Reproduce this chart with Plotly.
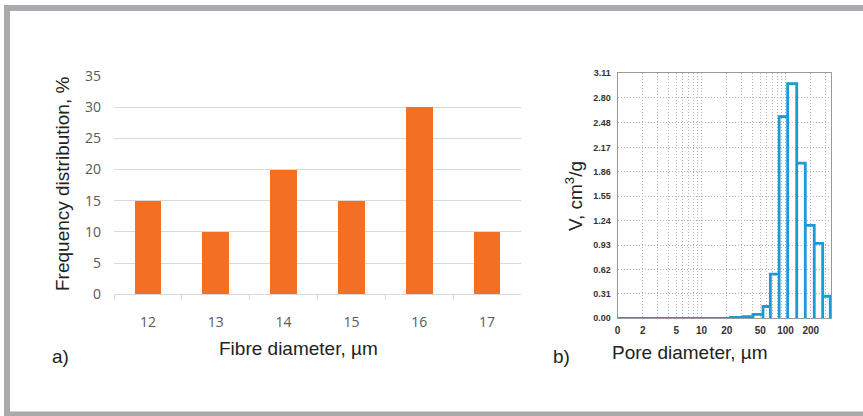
import plotly.graph_objects as go

# ---- data: left chart (fibre diameter distribution) ----
fibre_diam = ["12", "13", "14", "15", "16", "17"]
freq_pct = [15, 10, 20, 15, 30, 10]

# ---- data: right chart (pore volume histogram, log-scaled pore diameter) ----
pore_edges = [1, 22, 31, 41, 54, 66, 84, 106, 136, 172, 220, 277, 341]
pore_vol = [0.0, 0.01, 0.02, 0.05, 0.15, 0.56, 2.56, 2.98, 1.97, 1.18, 0.95, 0.28]
pore_tickvals = [1, 2, 5, 10, 20, 50, 100, 200]
pore_ticktext = ["0", "2", "5", "10", "20", "50", "100", "200"]
vol_ticks = [0.00, 0.31, 0.62, 0.93, 1.24, 1.55, 1.86, 2.17, 2.48, 2.80, 3.11]
minor_grid = [2, 3, 4, 5, 6, 7, 8, 9, 10, 20, 30, 40, 50, 60, 70, 80, 90, 100, 200, 300]

W, H = 863, 416

def px(x):
    return x / W

def py(y):
    return (H - y) / H

# step outline of histogram
sx, sy = [], []
for i, v in enumerate(pore_vol):
    x0, x1 = pore_edges[i], pore_edges[i + 1]
    sx += [x0, x0, x1, x1]
    sy += [0, v, v, 0]

fig = go.Figure()

fig.add_trace(go.Bar(
    x=fibre_diam, y=freq_pct, width=0.395,
    marker=dict(color="#f26f23", line=dict(width=0)),
    xaxis="x", yaxis="y", showlegend=False,
))

fig.add_trace(go.Scatter(
    x=sx, y=sy, mode="lines",
    line=dict(color="#1b9ad6", width=2.8),
    xaxis="x2", yaxis="y2", showlegend=False,
))

GRID2 = "#b4b4b4"
DOT = "1px,2px"

fig.update_layout(
    width=W, height=H,
    margin=dict(l=0, r=0, t=0, b=0, autoexpand=False),
    paper_bgcolor="white", plot_bgcolor="white",
    font=dict(family="Liberation Sans, Arial, sans-serif", color="#333333"),
    bargap=0,
    xaxis=dict(
        domain=[px(114), px(521)],
        anchor="y",
        type="category",
        showgrid=False,
        showline=True, linecolor="#d9d9d9", linewidth=1,
        ticks="outside", tickson="boundaries", ticklen=5, tickcolor="#d9d9d9",
        tickfont=dict(family="Open Sans, Liberation Sans, sans-serif", size=14, color="#595959"),
        ticklabelstandoff=15,
        fixedrange=True,
    ),
    yaxis=dict(
        domain=[py(294.3), py(76)],
        anchor="x",
        range=[0, 35], tickvals=[0, 5, 10, 15, 20, 25, 30, 35],
        showgrid=True, gridcolor="#d9d9d9", gridwidth=1,
        zeroline=False, showline=False,
        ticks="",
        tickfont=dict(family="Open Sans, Liberation Sans, sans-serif", size=14, color="#595959"),
        ticklabelstandoff=12,
        fixedrange=True,
    ),
    xaxis2=dict(
        domain=[px(617.5), px(831)],
        anchor="y2",
        type="log",
        range=[0, 213.5 / 84],
        tickvals=pore_tickvals, ticktext=pore_ticktext,
        showgrid=True, gridcolor=GRID2, gridwidth=1, griddash=DOT,
        minor=dict(tickvals=minor_grid, showgrid=True, gridcolor=GRID2,
                   gridwidth=1, griddash=DOT, ticks=""),
        showline=True, linecolor="#9a9a9a", linewidth=1, mirror=True,
        ticks="", zeroline=False,
        tickfont=dict(family="Liberation Sans, Arial, sans-serif", size=10, color="#333333", weight="bold"),
        ticklabelstandoff=3,
        fixedrange=True,
    ),
    yaxis2=dict(
        domain=[py(318.3), py(73.3)],
        anchor="x2",
        range=[0, 3.11],
        tickvals=vol_ticks, ticktext=[f"{v:.2f}" for v in vol_ticks],
        showgrid=True, gridcolor=GRID2, gridwidth=1, griddash=DOT,
        showline=True, linecolor="#9a9a9a", linewidth=1, mirror=True,
        ticks="", zeroline=False,
        tickfont=dict(family="Liberation Sans, Arial, sans-serif", size=9, color="#333333", weight="bold"),
        ticklabelstandoff=4,
        fixedrange=True,
    ),
    shapes=[
        dict(type="line", xref="paper", yref="paper", x0=px(7), x1=px(7), y0=py(5), y1=py(416),
             line=dict(color="#a8aaad", width=6)),
        dict(type="line", xref="paper", yref="paper", x0=px(4), x1=px(863), y0=py(8), y1=py(8),
             line=dict(color="#a8aaad", width=6)),
        dict(type="line", xref="paper", yref="paper", x0=px(4), x1=px(863), y0=py(414), y1=py(414),
             line=dict(color="#a8aaad", width=5)),
    ],
    annotations=[
        dict(text="Frequency distribution, %", xref="paper", yref="paper",
             x=px(62), y=py(184), textangle=-90, showarrow=False,
             xanchor="center", yanchor="middle",
             font=dict(size=19, color="#222222")),
        dict(text="Fibre diameter, µm", xref="paper", yref="paper",
             x=px(298), y=py(348), showarrow=False, xanchor="center", yanchor="middle",
             font=dict(size=19, color="#222222")),
        dict(text="a)", xref="paper", yref="paper",
             x=px(60), y=py(356), showarrow=False, xanchor="center", yanchor="middle",
             font=dict(size=19, color="#222222")),
        dict(text="b)", xref="paper", yref="paper",
             x=px(561), y=py(356), showarrow=False, xanchor="center", yanchor="middle",
             font=dict(size=19, color="#222222")),
        dict(text="V, cm<sup>3</sup>/g", xref="paper", yref="paper",
             x=px(574), y=py(196), textangle=-90, showarrow=False,
             xanchor="center", yanchor="middle",
             font=dict(size=19, color="#222222")),
        dict(text="Pore diameter, µm", xref="paper", yref="paper",
             x=px(690), y=py(352), showarrow=False, xanchor="center", yanchor="middle",
             font=dict(size=19, color="#222222")),
    ],
)

fig.write_html(
    "out.html",
    config={"displayModeBar": False, "staticPlot": True},
    post_script="document.body.style.margin='0';document.body.style.padding='0';"
                "document.documentElement.style.overflow='hidden';",
)
